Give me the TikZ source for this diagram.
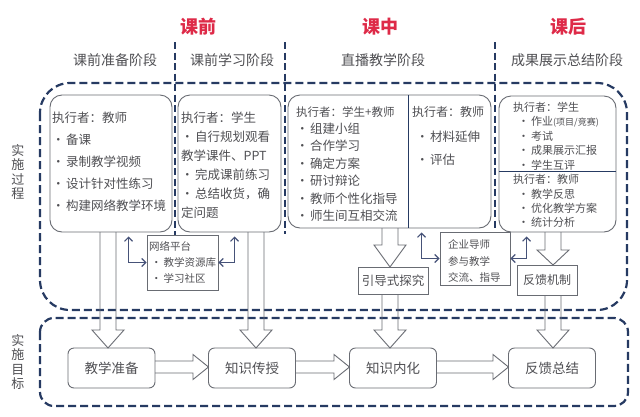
\documentclass[tikz,border=0pt]{standalone}
\usepackage{fontspec}
\setmainfont{Noto Sans CJK SC}
\usetikzlibrary{calc,arrows.meta}
\definecolor{navy}{RGB}{38,58,98}
\definecolor{redt}{RGB}{222,42,72}
\definecolor{txt}{RGB}{80,80,84}
\definecolor{bord}{RGB}{105,108,115}
\definecolor{elbc}{RGB}{70,82,120}
\newcommand\fs[2]{\fontsize{#1}{#2}\selectfont}
\newcommand\hdarrow[4]{\draw[hollow] (#1-8,#2) -- (#1-8,#3) -- (#1-16,#3) -- (#1,#4) -- (#1+16,#3) -- (#1+8,#3) -- (#1+8,#2);}
\newcommand\hrarrow[4]{\draw[hollow] (#1,#4-6) -- (#2,#4-6) -- (#2,#4-12.5) -- (#3,#4) -- (#2,#4+12.5) -- (#2,#4+6) -- (#1,#4+6);}
\begin{document}
\begin{tikzpicture}[x=1pt,y=-1pt,
  every node/.style={text=txt, inner sep=0pt},
  title/.style={text=redt, font=\fs{18}{20}\bfseries},
  subh/.style={font=\fs{14}{16}},
  side/.style={font=\fs{13}{14.5}, align=center},
  ibox/.style={draw=bord, line width=0.9pt, rounded corners=12pt},
  sbox/.style={draw=bord, line width=0.9pt},
  rbox/.style={draw=bord, line width=0.9pt, rounded corners=6pt, minimum width=87pt, minimum height=40pt, font=\fs{13.5}{15}},
  lst/.style={anchor=north west, align=left},
  outer/.style={draw=navy, line width=2.2pt, dash pattern=on 8pt off 4pt},
  sepline/.style={draw=navy, line width=2.2pt, dash pattern=on 7pt off 3.5pt},
  divline/.style={draw=navy, line width=1pt},
  hollow/.style={draw=bord, line width=0.9pt, line join=miter},
  elb/.style={draw=elbc, line width=1.2pt, {Straight Barb[length=4pt,width=8pt]}-{Straight Barb[length=4pt,width=8pt]}},
]
\fill[white] (0,0) rectangle (640,416);
\useasboundingbox (0,0) rectangle (640,416);

% titles
\node[title] (t1) at (198,27) {课前};
\node[title] (t2) at (380,27) {课中};
\node[title] (t3) at (568,27) {课后};
\node[subh] (h1) at (115,60) {课前准备阶段};
\node[subh] (h2) at (232,60) {课前学习阶段};
\node[subh] (h3) at (383,60) {直播教学阶段};
\node[subh] (h4) at (567,60) {成果展示总结阶段};

% side labels
\node[side] (s1) at (18,172) {实\\施\\过\\程};
\node[side] (s2) at (18,362) {实\\施\\目\\标};

% outer dashed boxes
\draw[outer, rounded corners=30pt] (40,83) rectangle (627,310);
\draw[outer, rounded corners=14pt] (40,318) rectangle (628,406);

% separators
\draw[sepline] (175,42) -- (175,236);
\draw[sepline] (285,42) -- (285,234);
\draw[sepline] (495,42) -- (495,230);

% inner boxes
\node[ibox, minimum width=122pt, minimum height=137pt] (A) at (111,163.5) {};
\node[ibox, minimum width=103pt, minimum height=137pt] (B) at (229.5,163.5) {};
\node[ibox, minimum width=203pt, minimum height=133pt] (C) at (389.5,161.5) {};
\node[ibox, minimum width=117pt, minimum height=136pt] (D) at (557.5,164) {};
\draw[divline] (408,95) -- (408,228);
\draw[divline] (499,171) -- (616,171);

% box texts
\node[lst, font=\fs{12.5}{22}] (Atx) at (52,111.5) {执行者：教师\\•\hspace{1.5pt}备课\\•\hspace{1.5pt}录制教学视频\\•\hspace{1.5pt}设计针对性练习\\•\hspace{1.5pt}构建网络教学环境};
\node[lst, font=\fs{12.5}{19}] (Btx) at (181,111.5) {执行者：学生\\•\hspace{1.5pt}自行规划观看\\教学课件、PPT\\•\hspace{1.5pt}完成课前练习\\•\hspace{1.5pt}总结收货，确\\定问题};
\node[anchor=west, font=\fs{11.5}{13}] (Ch1) at (296,112) {执行者：学生+教师};
\node[lst, font=\fs{12.5}{17.5}] (Ctx) at (296,122.5) {•\hspace{1.5pt}组建小组\\•\hspace{1.5pt}合作学习\\•\hspace{1.5pt}确定方案\\•\hspace{1.5pt}研讨辩论\\•\hspace{1.5pt}教师个性化指导\\•\hspace{1.5pt}师生间互相交流};
\node[anchor=west, font=\fs{12}{13}] (Ch2) at (412,112) {执行者：教师};
\node[lst, font=\fs{12.5}{23}] (Ctx2) at (416,130.5) {•\hspace{1.5pt}材料延伸\\•\hspace{1.5pt}评估};
\node[lst, font=\fs{11}{14.5}] (Dtx1) at (513,101.5) {执行者：学生\\\hspace{5pt}•\hspace{2pt}作业{\fs{9}{14.5}(项目/竞赛)}\\\hspace{5pt}•\hspace{2pt}考试\\\hspace{5pt}•\hspace{2pt}成果展示汇报\\\hspace{5pt}•\hspace{2pt}学生互评};
\node[lst, font=\fs{11}{14.3}] (Dtx2) at (513,174.5) {执行者：教师\\\hspace{5pt}•\hspace{2pt}教学反思\\\hspace{5pt}•\hspace{2pt}优化教学方案\\\hspace{5pt}•\hspace{2pt}统计分析};

% small boxes
\node[sbox, minimum width=71pt, minimum height=55pt] (np) at (182.5,262.5) {};
\node[lst, font=\fs{10.5}{16}] (nptx) at (149,241.5) {网络平台\\\hspace{2pt}•\hspace{2pt}教学资源库\\\hspace{2pt}•\hspace{2pt}学习社区};
\node[sbox, minimum width=70pt, minimum height=53pt] (qy) at (475,258.5) {};
\node[lst, font=\fs{10.5}{16.5}] (qytx) at (448,239.5) {企业导师\\参与教学\\交流、指导};
\node[sbox, minimum width=70pt, minimum height=27pt, font=\fs{12.5}{14}] (yd) at (393,280.5) {引导式探究};
\node[sbox, minimum width=60pt, minimum height=30pt, font=\fs{12}{14}] (fk) at (547,280) {反馈机制};

% bottom row
\node[rbox] (b1) at (111.5,368) {教学准备};
\node[rbox] (b2) at (252,368) {知识传授};
\node[rbox] (b3) at (393,368) {知识内化};
\node[rbox] (b4) at (552,368) {反馈总结};

% hollow arrows
\hdarrow{108}{232}{330}{348}
\hdarrow{256}{232}{330}{348}
\hdarrow{390}{228}{245}{267}
\hdarrow{390}{294}{330}{348}
\hdarrow{553}{232}{250}{265}
\hdarrow{553}{295}{330}{348}
\hrarrow{155}{193}{208.5}{367}
\hrarrow{295.5}{334}{349.5}{367}
\hrarrow{436.5}{493}{508.5}{367}

% elbow arrows
\draw[elb] ($(A.south west)+(79,4)$) |- (np.west);
\draw[elb] ($(B.south west)+(57,4)$) |- (np.east);
\draw[elb] ($(C.south west)+(134,4)$) |- (qy.west);
\draw[elb] ($(D.south west)+(28,4)$) |- (qy.east);
\end{tikzpicture}
\end{document}
